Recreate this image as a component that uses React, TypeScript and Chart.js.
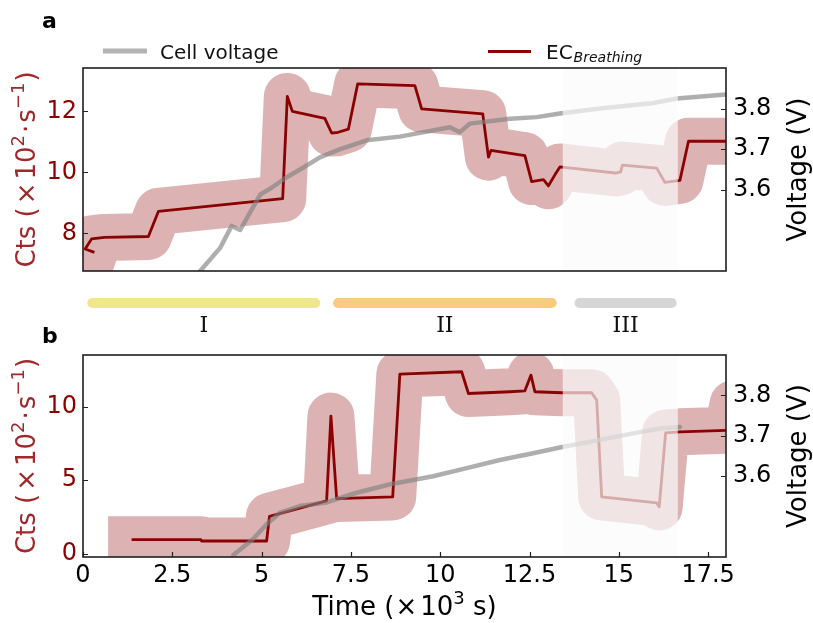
import React, { useEffect, useRef } from "react";
import { Chart, registerables } from "chart.js";

Chart.register(...registerables);

const W = 813;
const H = 623;
const FONT = "DejaVu Sans";
const SERIF = "DejaVu Serif";
const DARK_RED = "#8b0000";
const TITLE_RED = "#a0282a";

// ---------- shared axes ----------
const X_MIN = 0;
const X_MAX = 18;
const X_TICKS = [0, 2.5, 5, 7.5, 10, 12.5, 15, 17.5];
const V_MIN = 3.4;
const V_MAX = 3.9;
const V_TICKS = [3.6, 3.7, 3.8];
const REGION3 = [13.43, 16.65];

// ---------- panel a ----------
const A_Y_MIN = 6.77;
const A_Y_MAX = 13.42;
const A_Y_TICKS = [8, 10, 12];
const A_TIME = [0.32, 0.06, 0.24, 0.6, 1.83, 2.11, 5.59, 5.72, 5.86, 6.77, 6.96, 7.1, 7.43, 7.69, 9.29, 9.48, 11.19, 11.35, 11.42, 12.37, 12.56, 12.89, 13.03, 13.21, 13.35, 14.9, 15.05, 15.1, 16.06, 16.29, 16.71, 16.95, 18.0];
const A_EC = [7.38, 7.49, 7.82, 7.87, 7.9, 8.72, 9.14, 12.49, 12.0, 11.77, 11.29, 11.3, 11.42, 12.9, 12.84, 12.08, 11.92, 10.5, 10.72, 10.55, 9.7, 9.76, 9.56, 9.92, 10.18, 9.98, 10.02, 10.24, 10.14, 9.67, 9.74, 11.02, 11.02];
const A_V_TIME = [3.28, 3.84, 4.16, 4.4, 4.96, 5.28, 5.7, 6.17, 6.63, 7.2, 7.94, 8.87, 10.27, 10.55, 10.83, 11.95, 12.7, 13.35, 14.47, 15.97, 16.62, 18.0];
const A_VOLT = [3.4, 3.457, 3.511, 3.501, 3.588, 3.605, 3.631, 3.655, 3.68, 3.7, 3.722, 3.731, 3.754, 3.742, 3.763, 3.775, 3.779, 3.788, 3.8, 3.814, 3.825, 3.835];

// ---------- panel b ----------
const B_Y_MIN = -0.23;
const B_Y_MAX = 13.52;
const B_Y_TICKS = [0, 5, 10];
const B_TIME = [1.36, 3.3, 3.32, 5.14, 5.22, 6.82, 6.94, 7.1, 8.67, 8.87, 10.6, 10.79, 11.95, 12.37, 12.54, 12.65, 13.4, 14.24, 14.38, 14.52, 16.06, 16.13, 16.31, 16.71, 18.05, 18.2, 18.5];
const B_EC = [0.95, 0.95, 0.86, 0.86, 2.54, 3.59, 9.36, 3.75, 3.86, 12.22, 12.38, 10.9, 11.02, 11.08, 12.15, 11.02, 10.95, 10.95, 10.45, 3.86, 3.45, 3.18, 8.22, 8.29, 8.4, 10.2, 10.2];
const B_V_TIME = [4.21, 4.77, 5.14, 5.52, 6.07, 6.82, 7.66, 8.6, 9.8, 10.74, 11.67, 12.6, 13.45, 14.47, 15.4, 16.15, 16.71];
const B_VOLT = [3.405, 3.445, 3.481, 3.51, 3.526, 3.535, 3.559, 3.58, 3.6, 3.62, 3.64, 3.657, 3.673, 3.69, 3.706, 3.718, 3.722];

// ---------- phases ----------
const PHASE_LABELS = ["I", "II", "III"];
const PHASE_START = [0.26, 7.14, 13.9];
const PHASE_END = [6.5, 13.12, 16.48];
const PHASE_COLORS = ["#f0e68c", "#f9cb80", "#d6d6d6"];

// ---------- legend ----------
const LEGEND_VOLT = "Cell voltage";
const LEGEND_EC = "EC";
const LEGEND_EC_SUB = "Breathing";

// ---------- axis titles (text pieces; sup = superscript) ----------
type Piece = { t?: string; sup?: boolean; gap?: number };
const Y_TITLE: Piece[] = [{ t: "Cts (" }, { gap: 3 }, { t: "×" }, { gap: 3 }, { t: "10" }, { t: "2", sup: true }, { gap: 2 }, { t: "·" }, { gap: 2 }, { t: "s" }, { t: "−1", sup: true }, { gap: 1 }, { t: ")" }];
const Y2_TITLE: Piece[] = [{ t: "Voltage (V)" }];
const X_TITLE: Piece[] = [{ t: "Time (" }, { gap: 1 }, { t: "×" }, { gap: 3 }, { t: "10" }, { t: "3", sup: true }, { t: " s)" }];

type Panel = {
  name: string;
  top: number;
  bottom: number;
  yMin: number;
  yMax: number;
  yTicks: number[];
  t: number[];
  ec: number[];
  vt: number[];
  v: number[];
  showX: boolean;
};

const PANELS: Panel[] = [
  { name: "a", top: 68, bottom: 271, yMin: A_Y_MIN, yMax: A_Y_MAX, yTicks: A_Y_TICKS, t: A_TIME, ec: A_EC, vt: A_V_TIME, v: A_VOLT, showX: false },
  { name: "b", top: 355, bottom: 557, yMin: B_Y_MIN, yMax: B_Y_MAX, yTicks: B_Y_TICKS, t: B_TIME, ec: B_EC, vt: B_V_TIME, v: B_VOLT, showX: true },
];

const MAIN_SIZE = 26;
const SUP_SIZE = 18;

function drawPieces(ctx: CanvasRenderingContext2D, pieces: Piece[], x: number, y: number, rotate: boolean, color: string) {
  ctx.save();
  ctx.translate(x, y);
  if (rotate) ctx.rotate(-Math.PI / 2);
  ctx.fillStyle = color;
  ctx.textAlign = "left";
  ctx.textBaseline = "alphabetic";
  const widths = pieces.map((pc) => {
    if (pc.gap) return pc.gap;
    ctx.font = `${pc.sup ? SUP_SIZE : MAIN_SIZE}px "${FONT}"`;
    return ctx.measureText(pc.t || "").width;
  });
  const total = widths.reduce((a, b) => a + b, 0);
  let cx = -total / 2;
  const base = MAIN_SIZE * 0.36; // baseline offset so the text is centred
  pieces.forEach((pc, i) => {
    if (pc.t) {
      ctx.font = `${pc.sup ? SUP_SIZE : MAIN_SIZE}px "${FONT}"`;
      ctx.fillText(pc.t, cx, base + (pc.sup ? -11 : 0));
    }
    cx += widths[i];
  });
  ctx.restore();
}

function makeDecor(p: Panel) {
  return {
    id: "decor" + p.name,
    afterDatasetsDraw(chart: any) {
      const { ctx, chartArea: ca, scales } = chart;
      const xs = scales.x;
      ctx.save();
      // region III veil
      const r0 = xs.getPixelForValue(REGION3[0]);
      const r1 = xs.getPixelForValue(REGION3[1]);
      ctx.fillStyle = "rgba(250,250,250,0.68)";
      ctx.fillRect(r0, ca.top, r1 - r0, ca.bottom - ca.top);
      // inward ticks
      ctx.strokeStyle = "#222";
      ctx.lineWidth = 1.2;
      const TL = 5;
      ctx.beginPath();
      p.yTicks.forEach((v) => {
        const py = Math.round(scales.y.getPixelForValue(v)) + 0.5;
        ctx.moveTo(ca.left, py);
        ctx.lineTo(ca.left + TL, py);
      });
      V_TICKS.forEach((v) => {
        const py = Math.round(scales.y2.getPixelForValue(v)) + 0.5;
        ctx.moveTo(ca.right - TL, py);
        ctx.lineTo(ca.right, py);
      });
      if (p.showX) {
        X_TICKS.forEach((v) => {
          const px = Math.round(xs.getPixelForValue(v)) + 0.5;
          ctx.moveTo(px, ca.bottom);
          ctx.lineTo(px, ca.bottom - TL);
        });
      }
      ctx.stroke();
      // frame
      ctx.lineWidth = 1.6;
      ctx.strokeStyle = "#1e1e1e";
      ctx.strokeRect(ca.left, ca.top, ca.right - ca.left, ca.bottom - ca.top);
      ctx.restore();
    },
    afterDraw(chart: any) {
      const { ctx, chartArea: ca, scales } = chart;
      const xs = scales.x;
      const midY = (ca.top + ca.bottom) / 2;
      ctx.save();
      // axis titles
      drawPieces(ctx, Y_TITLE, 26, midY, true, TITLE_RED);
      drawPieces(ctx, Y2_TITLE, 797, midY, true, "#000");
      // panel letter
      ctx.fillStyle = "#000";
      ctx.font = `bold 22px "${FONT}"`;
      ctx.textAlign = "left";
      ctx.textBaseline = "alphabetic";
      ctx.fillText(p.name, 42, p.name === "a" ? 28 : 343);

      if (p.name === "a") {
        // legend
        ctx.lineCap = "butt";
        ctx.strokeStyle = "rgba(128,128,128,0.6)";
        ctx.lineWidth = 5;
        ctx.beginPath();
        ctx.moveTo(103, 51);
        ctx.lineTo(147, 51);
        ctx.stroke();
        ctx.strokeStyle = DARK_RED;
        ctx.lineWidth = 3;
        ctx.beginPath();
        ctx.moveTo(488, 51.5);
        ctx.lineTo(531, 51.5);
        ctx.stroke();
        ctx.fillStyle = "#111";
        ctx.font = `20px "${FONT}"`;
        ctx.fillText(LEGEND_VOLT, 160, 59);
        ctx.fillText(LEGEND_EC, 546, 59);
        const w = ctx.measureText(LEGEND_EC).width;
        ctx.font = `italic 14px "${FONT}"`;
        ctx.fillText(LEGEND_EC_SUB, 546 + w + 1, 62);
      } else {
        // phase bars
        ctx.lineCap = "round";
        ctx.lineWidth = 10;
        ctx.font = `22px "${SERIF}"`;
        ctx.textAlign = "center";
        ctx.textBaseline = "alphabetic";
        PHASE_LABELS.forEach((lab, i) => {
          const a = xs.getPixelForValue(PHASE_START[i]);
          const b = xs.getPixelForValue(PHASE_END[i]);
          ctx.strokeStyle = PHASE_COLORS[i];
          ctx.beginPath();
          ctx.moveTo(a, 303);
          ctx.lineTo(b, 303);
          ctx.stroke();
          ctx.fillStyle = "#111";
          ctx.fillText(lab, (a + b) / 2, 331.5);
        });
        // x title
        drawPieces(ctx, X_TITLE, (ca.left + ca.right) / 2, 606, false, "#000");
      }
      ctx.restore();
    },
  };
}

function makeConfig(p: Panel): any {
  const ec = p.t.map((t, i) => ({ x: t, y: p.ec[i] }));
  const volt = p.vt.map((t, i) => ({ x: t, y: p.v[i] }));
  const tickFont = { family: FONT, size: 24 };
  return {
    type: "line",
    data: {
      datasets: [
        { data: volt, yAxisID: "y2", borderColor: "rgba(128,128,128,0.64)", borderWidth: 4.5, pointRadius: 0, order: 0, clip: 0, borderJoinStyle: "round", borderCapStyle: "round", tension: 0 },
        { data: ec, yAxisID: "y", borderColor: DARK_RED, borderWidth: 2.8, pointRadius: 0, order: 1, clip: 0, borderJoinStyle: "round", tension: 0 },
        { data: ec, yAxisID: "y", borderColor: "rgba(139,0,0,0.3)", borderWidth: 47, pointRadius: 0, order: 2, clip: 0, borderJoinStyle: "round", borderCapStyle: "square", tension: 0 },
      ],
    },
    options: {
      animation: false,
      responsive: false,
      events: [],
      layout: { padding: { top: p.top, left: 0, right: 0, bottom: 0 } },
      plugins: { legend: { display: false }, tooltip: { enabled: false }, title: { display: false } },
      scales: {
        x: {
          type: "linear",
          afterDataLimits: (s: any) => { s.min = X_MIN; s.max = X_MAX; },
          afterBuildTicks: (s: any) => { s.ticks = X_TICKS.map((v) => ({ value: v })); },
          afterFit: (s: any) => { s.height = H - p.bottom; },
          grid: { display: false, drawTicks: false },
          border: { display: false },
          ticks: { display: p.showX, font: tickFont, color: "#000", padding: 4, maxRotation: 0, autoSkip: false, callback: (v: any) => String(v) },
        },
        y: {
          type: "linear",
          position: "left",
          min: p.yMin,
          max: p.yMax,
          afterBuildTicks: (s: any) => { s.ticks = p.yTicks.map((v) => ({ value: v })); },
          afterFit: (s: any) => { s.width = 83; },
          grid: { display: false, drawTicks: false },
          border: { display: false },
          ticks: { font: tickFont, color: DARK_RED, padding: 6, autoSkip: false, callback: (v: any) => String(v) },
        },
        y2: {
          type: "linear",
          position: "right",
          min: V_MIN,
          max: V_MAX,
          afterBuildTicks: (s: any) => { s.ticks = V_TICKS.map((v) => ({ value: v })); },
          afterFit: (s: any) => { s.width = W - 726; },
          grid: { display: false, drawTicks: false },
          border: { display: false },
          ticks: { font: tickFont, color: "#000", padding: 7, autoSkip: false, callback: (v: any) => String(v) },
        },
      },
    },
    plugins: [makeDecor(p)],
  };
}

function PanelCanvas({ panel }: { panel: Panel }) {
  const ref = useRef<HTMLCanvasElement | null>(null);
  useEffect(() => {
    if (!ref.current) return;
    const chart = new Chart(ref.current, makeConfig(panel));
    return () => chart.destroy();
  }, [panel]);
  return (
    <canvas
      ref={ref}
      width={W}
      height={H}
      style={{ position: "absolute", left: 0, top: 0, width: W, height: H }}
    />
  );
}

export default function App() {
  return (
    <div style={{ position: "absolute", left: 0, top: 0, width: W, height: H, background: "#fff" }}>
      {PANELS.map((p) => (
        <PanelCanvas key={p.name} panel={p} />
      ))}
    </div>
  );
}
